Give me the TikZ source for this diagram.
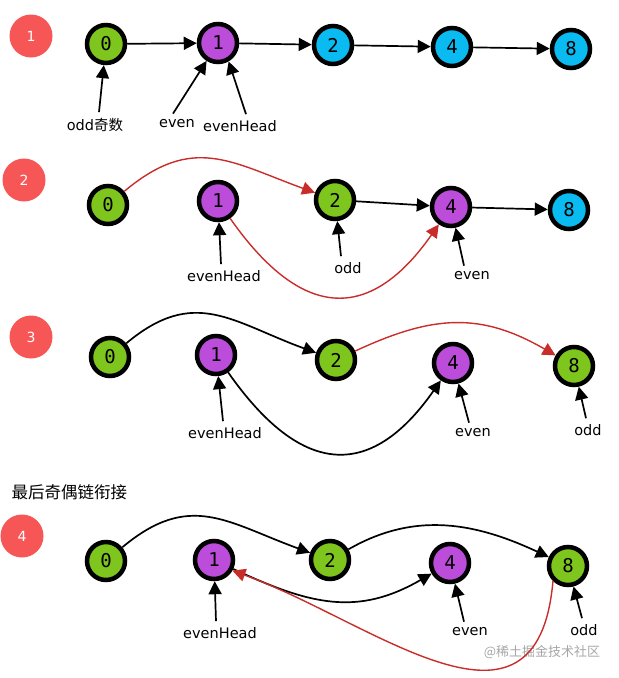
\documentclass[tikz,border=0pt]{standalone}
\usepackage{fontspec}
\setmainfont{DejaVu Sans}
\newfontfamily\numfont{DejaVu Sans Mono}
\newfontfamily\cjk{Noto Sans CJK SC}
\usetikzlibrary{arrows.meta}
\definecolor{oddgreen}{HTML}{7EC61E}
\definecolor{evenpurple}{HTML}{BC4DDA}
\definecolor{restblue}{HTML}{0ABBF2}
\definecolor{badgered}{HTML}{F75656}
\definecolor{linkred}{HTML}{C92D2A}
\tikzset{
    listnode/.style = {circle, draw=black, line width=4.5pt, minimum size=38pt,
                       inner sep=0pt, font=\numfont\fontsize{19}{19}\selectfont},
    oddnode/.style = {listnode, fill=oddgreen},
    evennode/.style = {listnode, fill=evenpurple},
    restnode/.style = {listnode, fill=restblue},
    badge/.style = {circle, fill=badgered, text=white, minimum size=43pt,
                    inner sep=0pt, font=\fontsize{14}{14}\selectfont},
    pointer/.style = {font=\fontsize{14.5}{15}\selectfont, inner sep=1pt},
    arrow/.style = {line width=1.7pt, -{Triangle[length=13pt,width=13pt]}},
    relink/.style = {arrow, draw=linkred, line width=1.4pt},
}

\begin{document}
\begin{tikzpicture}[x=1pt, y=1pt]
\useasboundingbox (0,0) rectangle (619,-678);

% step 1
\node (b1) [badge] at (31,-36) {1};
\node (one0) [oddnode] at (106,-44) {0};
\node (one1) [evennode] at (218,-43) {1};
\node (one2) [restnode] at (333,-45) {2};
\node (one4) [restnode] at (452,-47) {4};
\node (one8) [restnode] at (571,-49) {8};
\node (oneodd) [pointer] at (95,-125) {odd{\cjk 奇数}};
\node (oneeven) [pointer] at (177,-124) {even};
\node (onehead) [pointer] at (240,-126) {evenHead};

\draw[arrow] (one0) -- (one1);
\draw[arrow] (one1) -- (one2);
\draw[arrow] (one2) -- (one4);
\draw[arrow] (one4) -- (one8);
\draw[arrow] ([xshift=4pt,yshift=5pt]oneodd.north) -- (one0);
\draw[arrow] ([xshift=-4pt,yshift=5pt]oneeven.north) -- (one1);
\draw[arrow] ([xshift=6pt,yshift=5pt]onehead.north) -- (one1.-60);

% step 2
\node (b2) [badge] at (24,-180) {2};
\node (two0) [oddnode] at (108,-205) {0};
\node (two1) [evennode] at (218,-201) {1};
\node (two2) [oddnode] at (335,-200) {2};
\node (two4) [evennode] at (451,-207) {4};
\node (two8) [restnode] at (569,-210) {8};
\node (twohead) [pointer] at (224,-276) {evenHead};
\node (twoodd) [pointer] at (348,-268) {odd};
\node (twoeven) [pointer] at (472,-276) {even};

\draw[relink] (two0) to[out=40, in=160, looseness=1.2] (two2);
\draw[relink] (two1) to[out=-55, in=-125, looseness=1.5] (two4);
\draw[arrow] (two2) -- (two4);
\draw[arrow] (two4) -- (two8);
\draw[arrow] ([xshift=-3pt,yshift=5pt]twohead.north) -- (two1);
\draw[arrow] ([xshift=-7pt,yshift=5pt]twoodd.north) -- (two2);
\draw[arrow] ([xshift=-8pt,yshift=5pt]twoeven.north) -- (two4);

% step 3
\node (b3) [badge] at (31,-337) {3};
\node (three0) [oddnode] at (110,-357) {0};
\node (three1) [evennode] at (216,-355) {1};
\node (three2) [oddnode] at (336,-360) {2};
\node (three4) [evennode] at (453,-363) {4};
\node (three8) [oddnode] at (574,-366) {8};
\node (threehead) [pointer] at (225,-433) {evenHead};
\node (threeeven) [pointer] at (473,-433) {even};
\node (threeodd) [pointer] at (588,-430) {odd};

\draw[arrow] (three0) to[out=40, in=160, looseness=1.2] (three2);
\draw[relink] (three2) to[out=25, in=150, looseness=1.1] (three8);
\draw[arrow] (three1) to[out=-55, in=-125, looseness=1.5] (three4);
\draw[arrow] ([xshift=-2pt,yshift=5pt]threehead.north) -- (three1);
\draw[arrow] ([xshift=-4pt,yshift=5pt]threeeven.north) -- (three4);
\draw[arrow] ([xshift=-2pt,yshift=5pt]threeodd.north) -- (three8);

% step 4
\node (title) [anchor=west, font=\cjk\fontsize{16.5}{17}\selectfont] at (8,-492) {最后奇偶链衔接};
\node (b4) [badge] at (22,-536) {4};
\node (four0) [oddnode] at (106,-561) {0};
\node (four1) [evennode] at (214,-560) {1};
\node (four2) [oddnode] at (330,-560) {2};
\node (four4) [evennode] at (450,-563) {4};
\node (four8) [oddnode] at (568,-566) {8};
\node (fourhead) [pointer] at (220,-633) {evenHead};
\node (foureven) [pointer] at (470,-632) {even};
\node (fourodd) [pointer] at (584,-630) {odd};
\node (mark) [font=\cjk\fontsize{13}{13}\selectfont, text=black!35] at (542,-652) {@稀土掘金技术社区};

\draw[arrow] (four0) to[out=40, in=160, looseness=1.2] (four2);
\draw[arrow] (four2) to[out=30, in=155] (four8);
\draw[arrow] (four1) to[out=-25, in=-150, looseness=1.1] (four4);
\draw[relink] (four8.-135) .. controls +(-95:180) and +(-20:150) .. (four1.-30);
\draw[arrow] ([xshift=-4pt,yshift=5pt]fourhead.north) -- (four1);
\draw[arrow] ([xshift=-6pt,yshift=5pt]foureven.north) -- (four4);
\draw[arrow] ([xshift=-2pt,yshift=5pt]fourodd.north) -- (four8);
\end{tikzpicture}
\end{document}
